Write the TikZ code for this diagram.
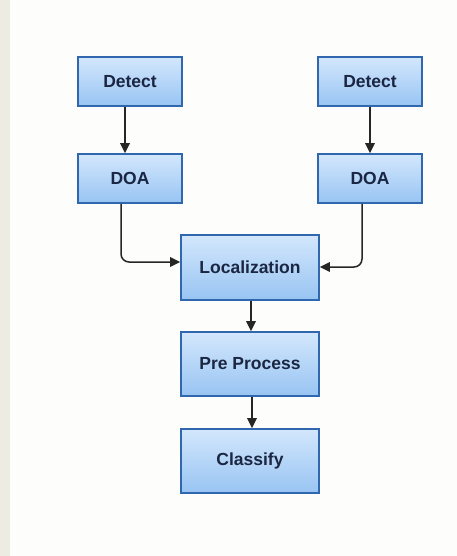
\documentclass[tikz,border=0pt]{standalone}
\usepackage{fontspec}
\setmainfont{Liberation Sans}
\usetikzlibrary{arrows.meta}
\definecolor{boxline}{HTML}{3067AE}
\definecolor{boxtop}{HTML}{D3E7FC}
\definecolor{boxbot}{HTML}{98C4F3}
\definecolor{txt}{HTML}{1A2642}
\definecolor{strip}{HTML}{EDECE3}
\definecolor{pagebg}{HTML}{FDFDFC}
\begin{document}
\begin{tikzpicture}[x=1pt,y=-1pt,
  blk/.style={draw=boxline, line width=1.8pt, top color=boxtop, bottom color=boxbot,
    font=\fontsize{17.5}{20}\selectfont\bfseries, text=txt, inner sep=0pt},
  conn/.style={draw=black!85, line width=1.5pt, -{Triangle[length=10pt,width=9.5pt]}, rounded corners=8pt}]
\useasboundingbox (0,0) rectangle (457,556);
\fill[pagebg] (0,0) rectangle (457,556);
\fill[strip] (0,0) rectangle (10,556);
\node[blk, minimum width=104pt, minimum height=49pt] (d1) at (130,81.5) {Detect};
\node[blk, minimum width=104pt, minimum height=49pt] (d2) at (370,81.5) {Detect};
\node[blk, minimum width=104pt, minimum height=49pt] (o1) at (130,178.5) {DOA};
\node[blk, minimum width=104pt, minimum height=49pt] (o2) at (370,178.5) {DOA};
\node[blk, minimum width=138pt, minimum height=65pt] (loc) at (250,267.5) {Localization};
\node[blk, minimum width=138pt, minimum height=64pt] (pre) at (250,364) {Pre Process};
\node[blk, minimum width=138pt, minimum height=64pt] (cls) at (250,461) {Classify};
\draw[conn] (d1.south -| 125,0) -- (o1.north -| 125,0);
\draw[conn] (d2.south) -- (o2.north);
\draw[conn] (o1.south -| 121,0) |- (loc.west |- 0,262);
\draw[conn] (o2.south -| 362,0) |- (loc.east |- 0,267);
\draw[conn] (loc.south -| 251,0) -- (pre.north -| 251,0);
\draw[conn] (pre.south -| 252,0) -- (cls.north -| 252,0);
\end{tikzpicture}
\end{document}
